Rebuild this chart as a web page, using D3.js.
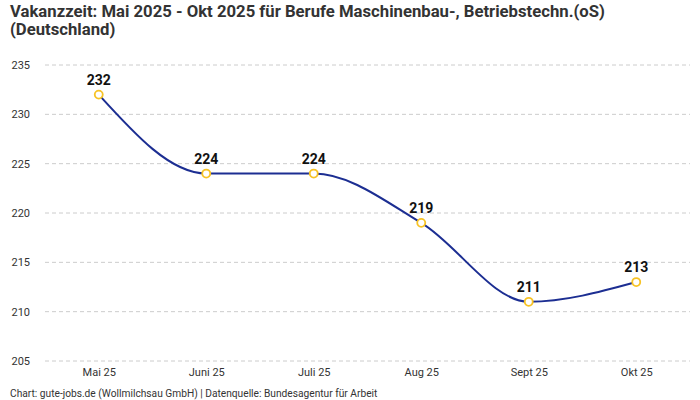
<!DOCTYPE html>
<html>
<head>
<meta charset="utf-8">
<script src="https://cdn.jsdelivr.net/npm/d3@7"></script>
<style>
  body { margin: 0; background: #fff; }
  svg { font-family: "Roboto", "Noto Sans", sans-serif; }
</style>
</head>
<body>
<div id="chart"></div>
<script>
var months = ["Mai 25", "Juni 25", "Juli 25", "Aug 25", "Sept 25", "Okt 25"];
var values = [232, 224, 224, 219, 211, 213];
var yTicks = [205, 210, 215, 220, 225, 230, 235];

var width = 700;
var height = 400;

var svg = d3.select("#chart")
    .append("svg")
    .attr("width", width)
    .attr("height", height);

// title
var title = svg.append("text")
    .attr("x", 10)
    .attr("font-size", 16.7)
    .attr("font-weight", "bold")
    .attr("fill", "#333");
title.append("tspan").attr("x", 10).attr("y", 17)
    .text("Vakanzzeit: Mai 2025 - Okt 2025 für Berufe Maschinenbau-, Betriebstechn.(oS)");
title.append("tspan").attr("x", 10).attr("y", 35)
    .text("(Deutschland)");

var xScale = d3.scalePoint()
    .domain(months)
    .range([45, 690])
    .padding(0.5);

var yScale = d3.scaleLinear()
    .domain([205, 235])
    .range([361, 65]);

// grid lines
svg.append("g")
    .selectAll("line")
    .data(yTicks)
    .enter()
    .append("line")
    .attr("x1", 45)
    .attr("x2", 690)
    .attr("y1", function(d) { return yScale(d); })
    .attr("y2", function(d) { return yScale(d); })
    .attr("stroke", "#ccc")
    .attr("stroke-dasharray", "4,3");

// y axis labels
var yAxis = d3.axisLeft(yScale).tickValues(yTicks).tickSize(0).tickPadding(0);
svg.append("g")
    .attr("transform", "translate(30,0)")
    .call(yAxis)
    .call(function(g) { g.select(".domain").remove(); })
    .selectAll("text")
    .attr("font-size", 11)
    .attr("fill", "#333")
    .attr("font-family", "Roboto, sans-serif");

// x axis labels
var xAxis = d3.axisBottom(xScale).tickSize(0).tickPadding(0);
svg.append("g")
    .attr("transform", "translate(0,368)")
    .call(xAxis)
    .call(function(g) { g.select(".domain").remove(); })
    .selectAll("text")
    .attr("font-size", 11)
    .attr("fill", "#333")
    .attr("font-family", "Roboto, sans-serif");

// line
var line = d3.line()
    .x(function(d, i) { return xScale(months[i]); })
    .y(function(d) { return yScale(d); })
    .curve(d3.curveMonotoneX);

svg.append("path")
    .datum(values)
    .attr("d", line)
    .attr("fill", "none")
    .attr("stroke", "#1c2e92")
    .attr("stroke-width", 2);

// markers
svg.append("g")
    .selectAll("circle")
    .data(values)
    .enter()
    .append("circle")
    .attr("cx", function(d, i) { return xScale(months[i]); })
    .attr("cy", function(d) { return yScale(d); })
    .attr("r", 4)
    .attr("fill", "#fff")
    .attr("stroke", "#f7c325")
    .attr("stroke-width", 1.8);

// value labels
svg.append("g")
    .selectAll("text")
    .data(values)
    .enter()
    .append("text")
    .attr("x", function(d, i) { return xScale(months[i]); })
    .attr("y", function(d) { return yScale(d) - 10; })
    .attr("text-anchor", "middle")
    .attr("font-size", 14)
    .attr("font-weight", "bold")
    .attr("fill", "#111")
    .text(function(d) { return d; });

// footer
svg.append("text")
    .attr("x", 10)
    .attr("y", 397)
    .attr("font-size", 10.2)
    .attr("fill", "#333")
    .text("Chart: gute-jobs.de (Wollmilchsau GmbH) | Datenquelle: Bundesagentur für Arbeit");
</script>
</body>
</html>
